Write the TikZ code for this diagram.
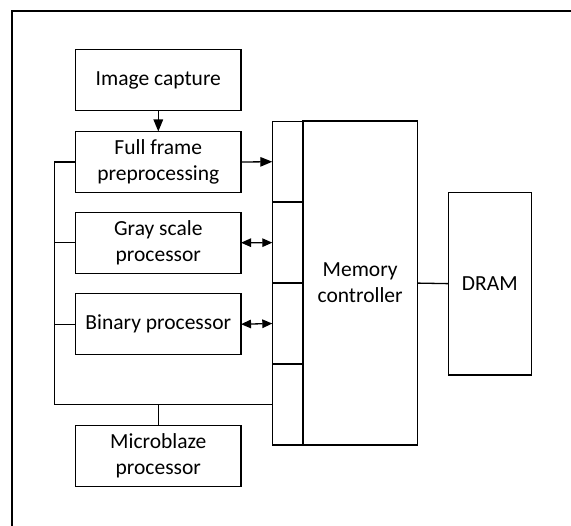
\documentclass[tikz,border=0pt]{standalone}
\usepackage{fontspec}
\setmainfont{Carlito}
\usetikzlibrary{arrows.meta}
\begin{document}
\begin{tikzpicture}[x=1pt,y=1pt,line width=1.3pt,
  every node/.style={inner sep=0pt,outer sep=0pt,font=\fontsize{21.5}{26}\selectfont,align=center},
  block/.style={draw,minimum width=165.5pt,minimum height=61pt},
  port/.style={draw,minimum width=30.7pt,minimum height=81pt},
  tri/.style={-{Triangle[length=12pt,width=9.5pt]}},
  dtri/.style={{Triangle[length=10pt,width=8.5pt]}-{Triangle[length=10pt,width=8.5pt]}}]
\useasboundingbox (0,0) rectangle (571,-526);
\draw (571,-11) -- (12,-11) -- (12,-526);
\node[block] (ic) at (158.3,-80.3) {Image capture};
\node[block] (ff) at (158.3,-162) {Full frame\\preprocessing};
\node[block] (gs) at (158.3,-242.7) {Gray scale\\processor};
\node[block] (bin) at (158.3,-324.2) {Binary processor};
\node[block] (mb) at (158.3,-456.2) {Microblaze\\processor};
\node[port] (p1) at (287.65,-161.75) {};
\node[port] (p2) at (287.65,-242.65) {};
\node[port] (p3) at (287.65,-323.55) {};
\node[port] (p4) at (287.65,-404.45) {};
\node[draw,minimum width=114.3pt,minimum height=324pt] (mc) at (360.15,-283.1) {Memory\\controller};
\node[draw,minimum width=83pt,minimum height=182.7pt] (dram) at (489.8,-283.65) {DRAM};
\coordinate (busT) at (54.3,-162);
\coordinate (busB) at (54.3,-404.45);
\draw[tri] (ic.south) -- (ff.north);
\draw[tri] (ff.east) -- (p1.west);
\draw[dtri] (gs.east) -- (p2.west);
\draw[dtri] (bin.east) -- (p3.west);
\draw (ff.west) -- (busT) -- (busB) -- (p4.west);
\draw (gs.west) -- (gs.west -| busT);
\draw (bin.west) -- (bin.west -| busT);
\draw (mb.north) -- (mb.north |- busB);
\draw (mc.east) -- (dram.west);
\end{tikzpicture}
\end{document}
